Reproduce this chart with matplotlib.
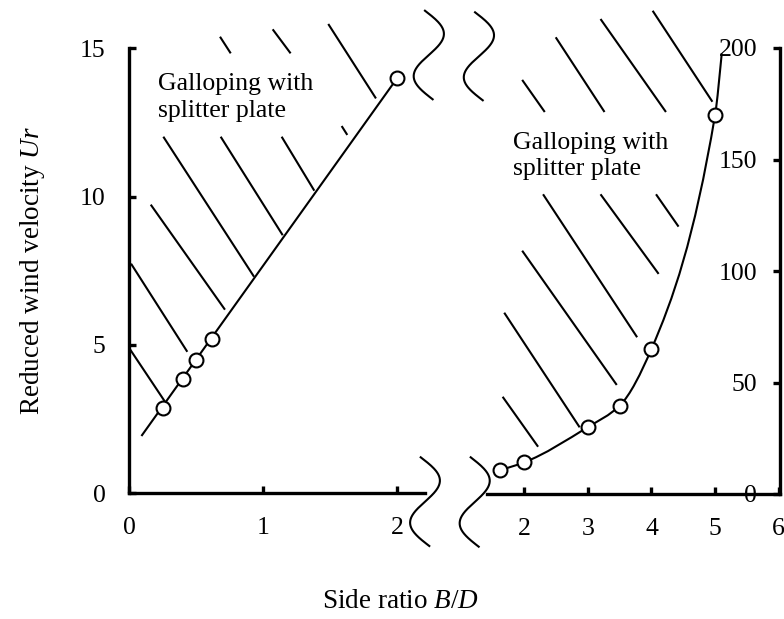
import numpy as np
import matplotlib
matplotlib.use('Agg')
import matplotlib.pyplot as plt
from matplotlib.path import Path
from matplotlib.patches import PathPatch
from matplotlib.lines import Line2D

plt.rcParams['font.family'] = ['Liberation Serif', 'DejaVu Serif']
plt.rcParams['mathtext.fontset'] = 'custom'
plt.rcParams['mathtext.rm'] = 'Liberation Serif'
plt.rcParams['mathtext.it'] = 'Liberation Serif:italic'

# ---------------- data ----------------
left_x = [0.25, 0.40, 0.50, 0.62, 2.00]
left_y = [2.86, 3.84, 4.49, 5.21, 14.0]
left_line_x = [0.095, 2.0]
left_line_y = [1.96, 14.0]

right_x = [1.62, 2.0, 3.0, 3.5, 4.0, 5.0]
right_y = [10.8, 14.2, 30.0, 39.6, 65.0, 170.0]
right_curve_end_x = 5.105
right_curve_end_y = 197.6

left_xticks = [0, 1, 2]
left_yticks = [0, 5, 10, 15]
right_xticks = [2, 3, 4, 5, 6]
right_yticks = [0, 50, 100, 150, 200]

# hatch segments (x0, y0, x1, y1) in data units of each panel
left_hatch = [
    (0.677, 15.39, 0.757, 14.83),
    (1.070, 15.64, 1.204, 14.83),
    (1.485, 15.82, 1.841, 13.31),
    (1.585, 12.38, 1.627, 12.08),
    (0.254, 12.02, 0.931, 7.30),
    (0.682, 12.02, 1.145, 8.70),
    (1.137, 12.02, 1.381, 10.20),
    (0.160, 9.73, 0.714, 6.19),
    (0.013, 7.74, 0.433, 4.77),
    (0.000, 4.89, 0.266, 3.09),
]
right_hatch = [
    (2.496, 204.8, 3.263, 171.3),
    (3.200, 213.0, 4.228, 171.3),
    (4.019, 216.7, 4.958, 175.9),
    (1.969, 185.7, 2.324, 171.3),
    (2.297, 134.4, 3.775, 70.3),
    (3.200, 134.4, 4.113, 98.7),
    (4.072, 134.4, 4.426, 119.9),
    (1.969, 109.1, 3.455, 48.9),
    (1.687, 81.3, 2.872, 29.9),
    (1.662, 43.6, 2.219, 21.2),
]

label_text = "Galloping with\nsplitter plate"

W, H = 784, 619
fig = plt.figure(figsize=(W / 100, H / 100), dpi=100)

FS = 18.5
LW_AX = 2.4
LW = 1.5

ax1 = fig.add_axes([129.3 / W, (H - 493.3) / H, (425 - 129.3) / W, (493.3 - 48.3) / H])
ax2 = fig.add_axes([487.3 / W, (H - 494) / H, (780 - 487.3) / W, (494 - 48) / H])

# ---- left panel ----
ax1.set_xlim(0, 2.207)
ax1.set_ylim(0, 15)
for s in ['top', 'right']:
    ax1.spines[s].set_visible(False)
for s in ['left', 'bottom']:
    ax1.spines[s].set_linewidth(LW_AX)
ax1.set_xticks(left_xticks)
ax1.set_yticks(left_yticks)
ax1.tick_params(direction='in', length=5, width=LW_AX, labelsize=FS, pad=17)
ax1.patch.set_alpha(0)

for x0, y0, x1, y1 in left_hatch:
    ax1.plot([x0, x1], [y0, y1], color='black', lw=LW, clip_on=False, solid_capstyle='butt')
ax1.plot(left_line_x, left_line_y, color='black', lw=LW, zorder=3)
ax1.plot(left_x, left_y, linestyle='none', marker='o', ms=10, mfc='white', mec='black', mew=1.5, zorder=4, clip_on=False)
ax1.text(0.216, 12.69, label_text, fontsize=FS, va='baseline', ha='left', linespacing=1.27)

# ---- right panel ----
ax2.set_xlim(1.421, 6.02)
ax2.set_ylim(0, 200)
for s in ['top', 'left']:
    ax2.spines[s].set_visible(False)
for s in ['right', 'bottom']:
    ax2.spines[s].set_linewidth(LW_AX)
ax2.set_xticks(right_xticks)
ax2.set_yticks(right_yticks)
ax2.yaxis.tick_right()
ax2.tick_params(axis='x', direction='in', length=5, width=LW_AX, labelsize=FS, pad=17)
ax2.tick_params(axis='y', direction='in', length=5, width=LW_AX, labelsize=FS, pad=-16.5)
for lab in ax2.get_yticklabels():
    lab.set_horizontalalignment('right')
ax2.patch.set_alpha(0)

for x0, y0, x1, y1 in right_hatch:
    ax2.plot([x0, x1], [y0, y1], color='black', lw=LW, clip_on=False, solid_capstyle='butt')

# smooth monotone (PCHIP-style) curve through the data points, drawn as cubic Beziers
cx = np.array(right_x + [right_curve_end_x], dtype=float)
cy = np.array(right_y + [right_curve_end_y], dtype=float)
h = np.diff(cx)
d = np.diff(cy) / h
m = np.zeros_like(cx)
for k in range(1, len(cx) - 1):
    if d[k - 1] * d[k] <= 0:
        m[k] = 0.0
    else:
        w1 = 2 * h[k] + h[k - 1]
        w2 = h[k] + 2 * h[k - 1]
        m[k] = (w1 + w2) / (w1 / d[k - 1] + w2 / d[k])
m[0] = ((2 * h[0] + h[1]) * d[0] - h[0] * d[1]) / (h[0] + h[1])
if np.sign(m[0]) != np.sign(d[0]):
    m[0] = 0.0
m[-1] = ((2 * h[-1] + h[-2]) * d[-1] - h[-1] * d[-2]) / (h[-1] + h[-2])
if np.sign(m[-1]) != np.sign(d[-1]):
    m[-1] = 0.0
verts = [(cx[0], cy[0])]
codes = [Path.MOVETO]
for k in range(len(cx) - 1):
    verts += [(cx[k] + h[k] / 3, cy[k] + m[k] * h[k] / 3),
              (cx[k + 1] - h[k] / 3, cy[k + 1] - m[k + 1] * h[k] / 3),
              (cx[k + 1], cy[k + 1])]
    codes += [Path.CURVE4] * 3
ax2.add_patch(PathPatch(Path(verts, codes), facecolor='none', edgecolor='black', lw=LW, zorder=3, clip_on=False))
ax2.plot(right_x, right_y, linestyle='none', marker='o', ms=10, mfc='white', mec='black', mew=1.5, zorder=4, clip_on=False)
ax2.text(1.828, 143, label_text, fontsize=FS, va='baseline', ha='left', linespacing=1.27)

# ---- break marks ----
def squiggle(cxp, top, height, drift, amp):
    s = np.linspace(0, 1, 200)
    xs = cxp + drift * (s - 0.5) + amp * np.sin(2 * np.pi * s)
    ys = top + height * s
    fig.add_artist(Line2D(xs / W, 1 - ys / H, transform=fig.transFigure, color='black', lw=LW))

squiggle(428.8, 10.7, 88.6, 7.7, 17)
squiggle(478.9, 12.3, 88.0, 7.7, 17)
squiggle(425.0, 457.3, 88.7, 8.6, 17)
squiggle(474.7, 457.3, 89.4, 8.0, 17)

# ---- axis titles ----
fig.text(33 / W, 1 - 270.7 / H, r'Reduced wind velocity $\mathit{Ur}$', rotation=90,
         fontsize=19.5, ha='center', va='center')
fig.text(400 / W, 1 - 601 / H, r'Side ratio $\mathit{B/D}$', fontsize=19.5, ha='center', va='center')

fig.savefig('out.png', dpi=100)
